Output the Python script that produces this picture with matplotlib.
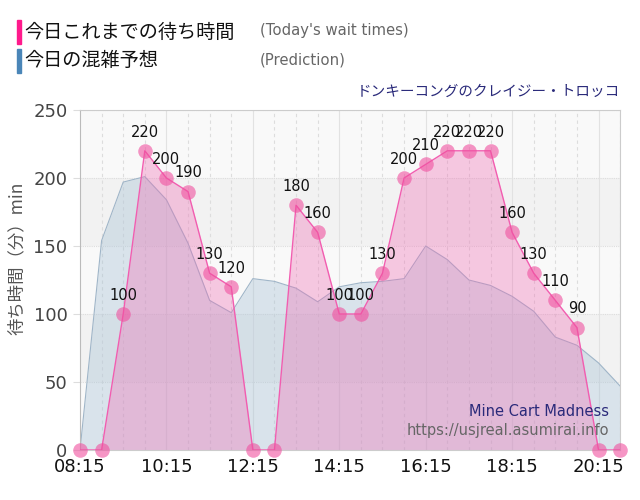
import matplotlib
matplotlib.use("Agg")
import matplotlib.pyplot as plt
from matplotlib.patches import Rectangle

plt.rcParams['font.family'] = ['Noto Sans CJK JP', 'DejaVu Sans']

# data (30 minute steps from 08:15)
times = ["08:15", "08:45", "09:15", "09:45", "10:15", "10:45", "11:15", "11:45",
         "12:15", "12:45", "13:15", "13:45", "14:15", "14:45", "15:15", "15:45",
         "16:15", "16:45", "17:15", "17:45", "18:15", "18:45", "19:15", "19:45",
         "20:15", "20:45"]
wait_today = [0, 0, 100, 220, 200, 190, 130, 120, 0, 0, 180, 160, 100, 100, 130,
              200, 210, 220, 220, 220, 160, 130, 110, 90, 0, 0]
prediction = [0, 154, 197, 201, 184, 152, 110, 101, 126, 124, 119, 109, 120, 123,
              124, 126, 150, 140, 125, 121, 113, 102, 83, 77, 64, 47]
tick_labels = ["08:15", "10:15", "12:15", "14:15", "16:15", "18:15", "20:15"]
y_ticks = [0, 50, 100, 150, 200, 250]

def toMinutes(t):
    h, m = t.split(":")
    return int(h) * 60 + int(m)

x = [toMinutes(t) for t in times]
x_ticks = [toMinutes(t) for t in tick_labels]

fig = plt.figure(figsize=(6.4, 5), dpi=100)
ax = fig.add_axes([0.125, 0.1, 0.844, 0.68])

# background bands
for i, lo in enumerate(range(0, 250, 50)):
    c = "#f9f9f9" if i % 2 == 0 else "#f2f2f2"
    ax.axhspan(lo, lo + 50, color=c, zorder=0, lw=0)

for yv in y_ticks[1:]:
    ax.axhline(yv, color="#dddddd", lw=0.8, ls=(0, (1, 1)), zorder=0.5)
for xv in x[1:]:
    if xv in x_ticks:
        ax.axvline(xv, color="#e2e2e2", lw=0.8, zorder=0.5)
    else:
        ax.axvline(xv, color="#dddddd", lw=0.8, ls=(0, (3, 3)), zorder=0.5)

# prediction
ax.fill_between(x, prediction, 0, color="#a9c3d6", alpha=0.4, lw=0, zorder=1)
ax.plot(x, prediction, color="#9fb5c8", lw=0.8, zorder=1.5)

# today's wait times
ax.fill_between(x, wait_today, 0, color="#f06cb4", alpha=0.35, lw=0, zorder=2)
ax.plot(x, wait_today, color="#f25db0", lw=1.0, zorder=3)
ax.scatter(x, wait_today, s=110, color="#f0509f", alpha=0.6, lw=0, zorder=4, clip_on=False)

for xi, yi in zip(x, wait_today):
    if yi > 0:
        ax.annotate(str(yi), (xi, yi), xytext=(0, 8), textcoords="offset points",
                    ha="center", va="bottom", fontsize=10.5, color="#111111",
                    family="DejaVu Sans", zorder=5)

ax.set_xlim(x[0], x[-1])
ax.set_ylim(0, 250)
ax.set_xticks(x_ticks)
ax.set_xticklabels(tick_labels, fontsize=13, color="#111111", family="DejaVu Sans")
ax.set_yticks(y_ticks)
ax.set_yticklabels([str(v) for v in y_ticks], fontsize=13, color="#444444", family="DejaVu Sans")
ax.tick_params(axis="y", length=5, color="#dddddd", pad=4)
ax.tick_params(axis="x", length=0, pad=6)

for s in ["top", "right"]:
    ax.spines[s].set_color("#cccccc")
    ax.spines[s].set_linestyle((0, (1, 1)))
    ax.spines[s].set_linewidth(0.8)
ax.spines["left"].set_color("#bbbbbb")
ax.spines["bottom"].set_color("#cccccc")

fig.text(0.027, 0.484, "待ち時間（分）min", rotation=90, ha="center", va="center",
         fontsize=12.5, color="#555555")

# header / legend
fig.patches.append(Rectangle((17 / 640, 1 - 44 / 500), 4 / 640, 24 / 500,
                             transform=fig.transFigure, color="#ff1a8c"))
fig.patches.append(Rectangle((17 / 640, 1 - 73 / 500), 4 / 640, 24 / 500,
                             transform=fig.transFigure, color="#4a86b8"))
fig.text(24 / 640, 1 - 32 / 500, "今日これまでの待ち時間", fontsize=13.8, va="center", color="#111111")
fig.text(24 / 640, 1 - 61 / 500, "今日の混雑予想", fontsize=13.8, va="center", color="#111111")
fig.text(260 / 640, 1 - 31 / 500, "(Today's wait times)", fontsize=10.7, va="center",
         color="#666666", family="DejaVu Sans")
fig.text(260 / 640, 1 - 60 / 500, "(Prediction)", fontsize=10.7, va="center",
         color="#666666", family="DejaVu Sans")
fig.text(620 / 640, 1 - 92 / 500, "ドンキーコングのクレイジー・トロッコ", fontsize=10.5,
         ha="right", va="center", color="#2a2a7a")

fig.text(609 / 640, 1 - 411 / 500, "Mine Cart Madness", fontsize=10.5, ha="right",
         va="center", color="#2a2a7a", family="DejaVu Sans")
fig.text(609 / 640, 1 - 431 / 500, "https://usjreal.asumirai.info", fontsize=10.5,
         ha="right", va="center", color="#666666", family="DejaVu Sans")

fig.savefig("out.png", dpi=100)
